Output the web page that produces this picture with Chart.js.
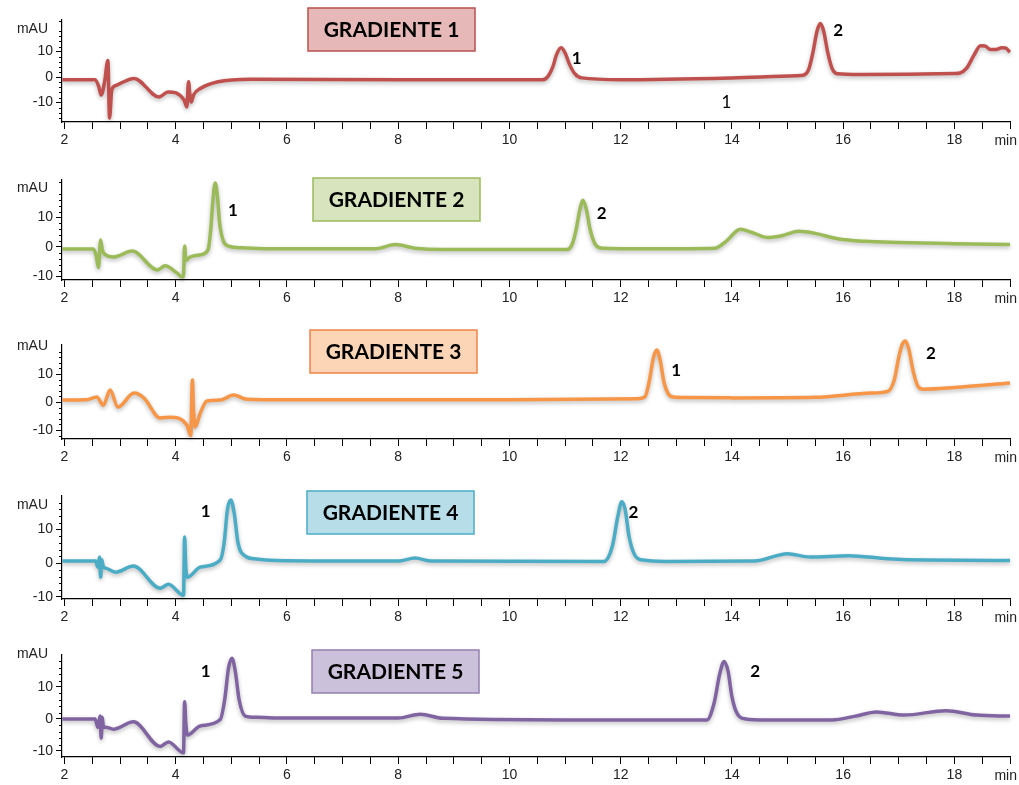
<!DOCTYPE html>
<html>
<head>
<meta charset="utf-8">
<script src="https://cdn.jsdelivr.net/npm/chart.js@4.4.1/dist/chart.umd.min.js"></script>
<style>
  body { margin:0; background:#fff; width:1019px; height:785px; overflow:hidden; position:relative; }
  canvas { position:absolute; left:0; }
</style>
</head>
<body>
<script>
// retention time (min) and signal (mAU) for each gradient
const t1 = [1.96, 2.55, 2.62, 2.66, 2.72, 2.78, 2.81, 2.85, 2.92, 3.25, 3.7, 3.86, 4.15, 4.2, 4.23, 4.25, 4.28, 4.32, 4.45, 4.76, 5.36, 8.0, 10.6, 10.7, 10.78, 10.85, 10.93, 11.0, 11.08, 11.17, 11.3, 12.0, 14.0, 15.15, 15.28, 15.38, 15.46, 15.53, 15.59, 15.65, 15.72, 15.8, 15.9, 16.3, 18.0, 18.1, 18.22, 18.35, 18.47, 18.55, 18.65, 18.75, 18.85, 18.92, 19.0];
const v1 = [-1, -1, -4, -7, -2, 6.5, -16, -5, -3.3, -0.5, -7.8, -5.8, -9, -11.7, -1.8, -6, -9.8, -7, -4.4, -1.8, -0.8, -1, -1, 0.5, 4, 9, 11.5, 9.5, 5, 1.5, -0.3, -1, -0.3, 0.5, 0.7, 3, 10, 18, 21, 18, 10, 3.5, 1.3, 1, 1.4, 1.6, 3.5, 8.5, 12.3, 12.2, 10.8, 10.8, 11.5, 11.4, 9.8];

const t2 = [1.96, 2.52, 2.57, 2.61, 2.65, 2.68, 2.74, 2.88, 3.22, 3.67, 3.81, 4.02, 4.12, 4.14, 4.16, 4.18, 4.25, 4.43, 4.58, 4.63, 4.67, 4.71, 4.75, 4.79, 4.85, 4.95, 5.2, 5.6, 7.6, 7.95, 8.3, 8.8, 11.03, 11.13, 11.2, 11.27, 11.32, 11.38, 11.45, 11.54, 11.67, 12.5, 13.7, 13.9, 14.15, 14.35, 14.65, 14.9, 15.2, 15.5, 15.9, 16.4, 17.0, 18.0, 19.0];
const v2 = [-0.7, -0.7, -3, -7, 2.4, -1, -2.7, -3.4, -1.4, -7.8, -6.4, -8.8, -10.2, -9.5, 0.3, -4.5, -3.5, -2.7, -1, 6, 16, 21.7, 17, 8, 2.4, 0.3, -0.3, -0.6, -0.6, 0.8, -0.4, -0.9, -0.9, 1, 6, 13, 15.8, 13, 6, 1, -0.4, -0.6, -0.4, 2, 6, 5, 3.2, 3.8, 5.3, 4.6, 2.8, 1.9, 1.5, 1.1, 0.8];

const t3 = [1.96, 2.4, 2.58, 2.7, 2.82, 2.96, 3.25, 3.43, 3.72, 3.9, 4.2, 4.27, 4.3, 4.32, 4.35, 4.44, 4.56, 4.8, 5.04, 5.28, 6.0, 10.0, 12.3, 12.44, 12.52, 12.59, 12.65, 12.71, 12.78, 12.86, 12.95, 13.2, 14.0, 15.5, 16.5, 16.8, 16.92, 17.0, 17.06, 17.12, 17.18, 17.26, 17.35, 17.45, 18.0, 19.0];
const v3 = [0.7, 0.8, 1.8, -1.1, 4.3, -1.8, 3.2, 1.4, -5.7, -5.4, -8.2, -12, 7.9, -3, -8.9, -4, 0.4, 0.7, 2.5, 1, 0.8, 0.8, 1.2, 2, 8, 16, 18.6, 15, 7, 2.8, 1.8, 1.6, 1.5, 1.7, 3.2, 3.8, 8, 16, 20.5, 21.8, 19, 11, 5.5, 4.6, 5.2, 6.8];

const t4 = [1.96, 2.56, 2.6, 2.63, 2.65, 2.67, 2.7, 2.74, 2.92, 3.24, 3.72, 3.87, 4.14, 4.16, 4.18, 4.21, 4.44, 4.8, 4.87, 4.93, 4.99, 5.05, 5.12, 5.25, 5.45, 5.8, 8.0, 8.3, 8.6, 11.7, 11.85, 11.95, 12.02, 12.08, 12.15, 12.25, 12.4, 12.8, 14.4, 15.0, 15.4, 16.1, 16.8, 17.5, 19.0];
const v4 = [0.6, 0.6, -1.2, 1.8, -4.2, 1, -1.2, -1.5, -2.7, -0.9, -7.5, -6.3, -9.6, 7.8, -1, -4.2, -1.2, 0.9, 6, 16, 18.8, 15, 6, 2.1, 1.2, 0.8, 0.6, 1.5, 0.6, 0.5, 5, 14, 18.3, 16, 8, 2.5, 0.9, 0.5, 0.6, 2.8, 1.8, 2.2, 1.3, 0.9, 0.8];

const t5 = [1.96, 2.55, 2.6, 2.64, 2.66, 2.68, 2.7, 2.74, 2.88, 3.24, 3.72, 3.87, 4.14, 4.16, 4.18, 4.21, 4.44, 4.8, 4.88, 4.95, 5.01, 5.07, 5.14, 5.25, 5.45, 6.0, 8.0, 8.4, 8.8, 11.0, 13.55, 13.68, 13.78, 13.86, 13.93, 14.0, 14.1, 14.25, 14.6, 15.8, 16.2, 16.6, 17.1, 17.85, 18.4, 19.0];
const v5 = [0, 0, -2.6, 0.9, -6, 0.5, -2.6, -2.6, -3.2, -0.9, -8.6, -7.2, -10.6, 5.4, -1, -5, -2.2, -0.2, 6, 16, 19, 15, 6, 0.9, 0.5, 0.3, 0.3, 1.5, 0.2, -0.3, -0.3, 5, 14, 18, 15, 7, 1.5, 0, -0.3, -0.3, 0.8, 2.2, 1.2, 2.6, 1.2, 0.9];

const times = [t1, t2, t3, t4, t5];
const signals = [v1, v2, v3, v4, v5];
const titles = ['GRADIENTE 1', 'GRADIENTE 2', 'GRADIENTE 3', 'GRADIENTE 4', 'GRADIENTE 5'];

// peak labels (time, mAU, text, bold)
const peakT = [[11.21, 15.91, 13.9], [5.03, 11.66], [13.0, 17.58], [4.54, 12.23], [4.54, 14.42]];
const peakV = [[7.1, 18.4, -9.8], [12.2, 11.5], [11.4, 17.5], [15.5, 15.2], [14.7, 14.7]];
const peakText = [['1', '2', '1'], ['1', '2'], ['1', '2'], ['1', '2'], ['1', '2']];
const peakBold = [[true, true, false], [true, true], [true, true], [true, true], [true, true]];

const xLabels = [2, 4, 6, 8, 10, 12, 14, 16, 18];
const yLabels = [-10, 0, 10];
const yMins = [-17.6, -11.2, -13.2, -10.7, -11.9];
const yMaxs = [22.4, 22.7, 20.4, 20, 20];

const lineColors = ['#c0504d', '#9bbb59', '#f79646', '#4bacc6', '#8064a2'];
const boxFills = ['#e6b9b8', '#d7e4bd', '#fbd5b5', '#b7dde8', '#ccc1da'];
const boxBorders = ['#b9504c', '#9bbb59', '#f0824a', '#4bacc6', '#9580b0'];

// layout (pixels on the page)
const plotTop = [20, 180, 345, 496, 655];
const plotBottom = [122, 280, 439, 599, 757];
const boxX = [308, 313, 310, 307, 312];
const boxY = [8, 178, 330, 491, 650];
const mauOff = [9, 8, 1, 9, -1];
const PAD_TOP = 20;

let xMinor = [];
for (let x = 2; x <= 19; x += 0.5) xMinor.push(x);

function makePanel(i) {
  const cv = document.createElement('canvas');
  const h = plotBottom[i] - plotTop[i] + PAD_TOP + 30;
  cv.width = 1019;
  cv.height = h;
  cv.style.top = (plotTop[i] - PAD_TOP) + 'px';
  document.body.appendChild(cv);

  const data = times[i].map((x, k) => ({ x: x, y: signals[i][k] }));

  const deco = {
    id: 'deco' + i,
    beforeDatasetDraw(chart) {
      const ctx = chart.ctx;
      ctx.save();
      ctx.shadowColor = 'rgba(0,0,0,0.28)';
      ctx.shadowBlur = 4;
      ctx.shadowOffsetY = 2;
    },
    afterDatasetDraw(chart) {
      chart.ctx.restore();
    },
    afterDraw(chart) {
      const ctx = chart.ctx;
      const a = chart.chartArea;
      const xs = chart.scales.x, ys = chart.scales.y;
      ctx.save();
      // minor y ticks
      ctx.strokeStyle = '#000';
      ctx.lineWidth = 1;
      for (let v = Math.ceil(yMins[i] / 2) * 2; v <= yMaxs[i]; v += 2) {
        if (v % 10 === 0) continue;
        const py = Math.round(ys.getPixelForValue(v)) + 0.5;
        ctx.beginPath();
        ctx.moveTo(a.left - 3, py);
        ctx.lineTo(a.left, py);
        ctx.stroke();
      }
      ctx.fillStyle = '#222';
      ctx.font = '14px "Liberation Sans", Arial, sans-serif';
      ctx.textBaseline = 'middle';
      ctx.textAlign = 'right';
      ctx.fillText('mAU', 48, a.top + mauOff[i]);
      ctx.fillText('min', 1017, a.bottom + 19);

      // title box
      const by = boxY[i] - (plotTop[i] - PAD_TOP);
      ctx.fillStyle = boxFills[i];
      ctx.fillRect(boxX[i], by, 167, 43);
      ctx.strokeStyle = boxBorders[i];
      ctx.lineWidth = 1.5;
      ctx.strokeRect(boxX[i], by, 167, 43);
      ctx.fillStyle = '#000';
      ctx.textAlign = 'center';
      ctx.font = 'bold 21px Lato, "Open Sans", sans-serif';
      ctx.fillText(titles[i], boxX[i] + 83.5, by + 22);

      // peak numbers
      for (let k = 0; k < peakT[i].length; k++) {
        ctx.font = (peakBold[i][k] ? 'bold ' : '') + '17px Lato, "Open Sans", sans-serif';
        ctx.fillText(peakText[i][k], xs.getPixelForValue(peakT[i][k]), ys.getPixelForValue(peakV[i][k]));
      }
      ctx.restore();
    }
  };

  new Chart(cv, {
    type: 'line',
    data: {
      datasets: [{
        data: data,
        borderColor: lineColors[i],
        borderWidth: 3.5,
        pointRadius: 0,
        cubicInterpolationMode: 'monotone',
        clip: false,
        fill: false
      }]
    },
    options: {
      responsive: false,
      animation: false,
      layout: { padding: { top: PAD_TOP, bottom: 0, left: 0, right: 9 } },
      plugins: { legend: { display: false }, tooltip: { enabled: false } },
      scales: {
        x: {
          type: 'linear',
          min: 1.955,
          max: 19,
          afterBuildTicks: s => { s.ticks = xMinor.map(v => ({ value: v })); },
          afterFit: s => { s.height = 30; },
          border: { color: '#000', width: 1.2 },
          grid: { drawOnChartArea: false, tickLength: 7, color: '#000' },
          ticks: {
            autoSkip: false,
            maxRotation: 0,
            padding: 3,
            color: '#222',
            font: { family: '"Liberation Sans", Arial, sans-serif', size: 14 },
            callback: v => xLabels.includes(v) ? String(v) : ''
          }
        },
        y: {
          type: 'linear',
          min: yMins[i],
          max: yMaxs[i],
          afterBuildTicks: s => { s.ticks = yLabels.map(v => ({ value: v })); },
          afterFit: s => { s.width = 62; },
          border: { color: '#000', width: 1.2 },
          grid: { drawOnChartArea: false, tickLength: 6, color: '#000' },
          ticks: {
            padding: 3,
            color: '#222',
            font: { family: '"Liberation Sans", Arial, sans-serif', size: 14 }
          }
        }
      }
    },
    plugins: [deco]
  });
}

for (let i = 0; i < 5; i++) makePanel(i);
</script>
</body>
</html>
